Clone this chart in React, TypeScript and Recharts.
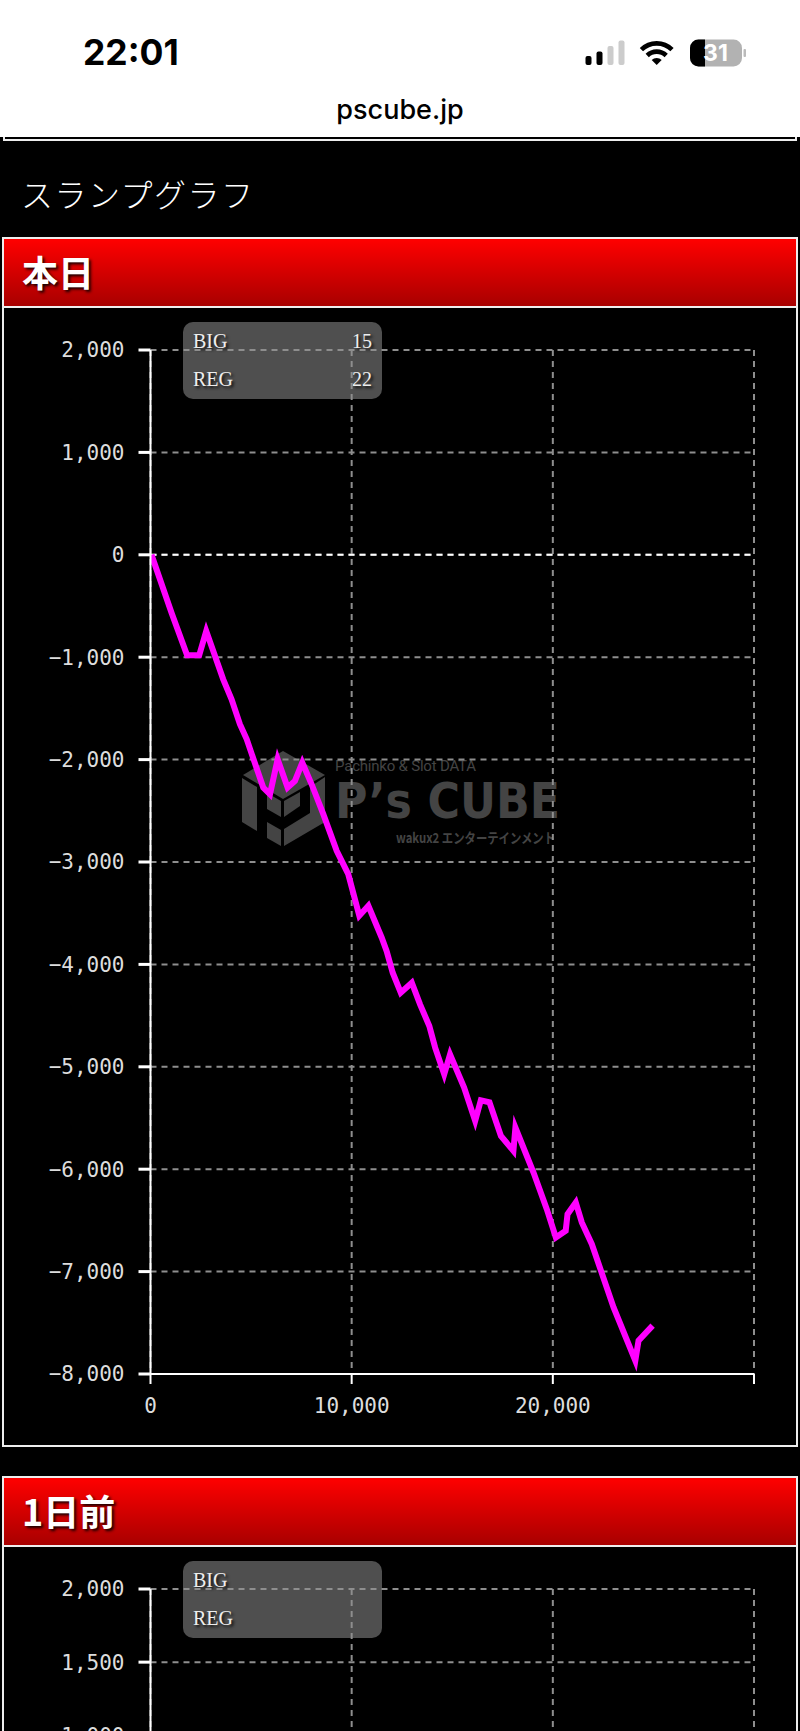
import React from 'react';
import { CartesianGrid, Line, LineChart, ReferenceLine, XAxis, YAxis } from 'recharts';

// game count / medal difference
const games = [
  50, 1045, 1820, 2420, 2770, 3615, 4030, 4445, 4780, 5605, 5940, 6320, 6815, 7180, 7545, 8010,
  8590, 9255, 9830, 10380, 10830, 11490, 11740, 12040, 12440, 12990, 13400, 13860, 14150, 14600,
  14890, 15590, 16140, 16420, 16850, 17420, 18040, 18140, 19040, 19700, 20150, 20640, 20730,
  21140, 21440, 21940, 23020, 24100, 24260, 24960,
];
const medals = [
  0, -566, -982, -982, -745, -1216, -1411, -1655, -1800, -2273, -2338, -1997, -2273, -2208, -2029,
  -2241, -2533, -2891, -3119, -3525, -3428, -3737, -3870, -4081, -4276, -4179, -4390, -4602, -4813,
  -5073, -4878, -5203, -5528, -5327, -5346, -5675, -5821, -5593, -6033, -6390, -6667, -6602, -6439,
  -6325, -6520, -6732, -7350, -7870, -7675, -7528,
];
const xTicks = [0, 10000, 20000, 30000];
const todayTicks = [2000, 1000, 0, -1000, -2000, -3000, -4000, -5000, -6000, -7000, -8000];
// only the ticks that reach the visible part of the page
const prevTicks = [2000, 1500, 1000];

const todayData = games.map((g, i) => ({ g, v: medals[i] }));
// the previous day has no visible line in the crop
const prevData = [{ g: 0, v: null }];

const shadow = '2px 2px 3px rgba(0,0,0,0.9)';
const serif = '"Liberation Serif", serif';
const mono = '"DejaVu Sans Mono", monospace';
const jp = '"Noto Sans CJK JP", sans-serif';

const fmtY = (v: number) => (v < 0 ? '\u2212' : '') + Math.abs(v).toLocaleString('en-US');
const fmtX = (v: number) => (v >= 30000 ? '' : v.toLocaleString('en-US'));

function Slump({
  top,
  ticks,
  domain,
  data,
  xLabels = true,
}: {
  top: number;
  ticks: number[];
  domain: number[];
  data: any[];
  xLabels?: boolean;
}) {
  return (
    <div style={{ position: 'absolute', left: 0, top }}>
      <LineChart width={800} height={1104} data={data} margin={{ top: 30, right: 46, bottom: 0, left: 0 }}>
        <CartesianGrid stroke="#8e8e8e" strokeWidth={2} strokeDasharray="6 5" />
        <XAxis
          dataKey="g"
          type="number"
          domain={[0, 30000]}
          allowDataOverflow
          ticks={xTicks}
          interval={0}
          tickFormatter={xLabels ? fmtX : () => ''}
          height={50}
          tickSize={10}
          tickMargin={14}
          axisLine={{ stroke: '#fff', strokeWidth: 2 }}
          tickLine={{ stroke: '#fff', strokeWidth: 2 }}
          tick={{ fill: '#ddd', fontSize: 21, fontFamily: mono }}
        />
        <YAxis
          dataKey="v"
          type="number"
          width={150.5}
          domain={domain}
          allowDataOverflow
          ticks={ticks}
          interval={0}
          tickFormatter={fmtY}
          tickSize={12}
          tickMargin={14}
          axisLine={{ stroke: '#fff', strokeWidth: 2 }}
          tickLine={{ stroke: '#fff', strokeWidth: 3 }}
          tick={{ fill: '#ddd', fontSize: 21, fontFamily: mono }}
        />
        <ReferenceLine y={0} stroke="#fff" strokeWidth={2} strokeDasharray="6 5" />
        <Line
          dataKey="v"
          stroke="#ff00ff"
          strokeWidth={6}
          strokeLinejoin="miter"
          strokeMiterlimit={10}
          dot={false}
          isAnimationActive={false}
        />
      </LineChart>
    </div>
  );
}

function Panel({ top, title, bottom }: { top: number; title: string; bottom?: number }) {
  return (
    <>
      <div
        style={{
          position: 'absolute',
          left: 2,
          top,
          width: 796,
          height: 71,
          boxSizing: 'border-box',
          border: '2px solid #eee',
          background: 'linear-gradient(#ff0000, #a80000)',
          color: '#fff',
          fontFamily: jp,
          fontWeight: 700,
          fontSize: 36,
          lineHeight: '64px',
          paddingLeft: 18,
          textShadow: shadow,
        }}
      >
        {title}
      </div>
      <div
        style={{
          position: 'absolute',
          left: 2,
          top: top + 69,
          width: 796,
          height: bottom ? bottom - top - 69 : 2000,
          boxSizing: 'border-box',
          border: '2px solid #eee',
        }}
      />
    </>
  );
}

function InfoBox({ top, big, reg }: { top: number; big?: string; reg?: string }) {
  const row = (label: string, value: string | undefined, y: number) => (
    <div
      style={{
        position: 'absolute',
        left: 10,
        right: 10,
        top: y,
        display: 'flex',
        justifyContent: 'space-between',
        fontFamily: serif,
        fontSize: 20,
        lineHeight: '24px',
        color: '#eee',
        textShadow: shadow,
      }}
    >
      <span>{label}</span>
      <span>{value}</span>
    </div>
  );
  return (
    <div
      style={{
        position: 'absolute',
        left: 183,
        top,
        width: 199,
        height: 77,
        borderRadius: 10,
        background: '#4f4f4f',
      }}
    >
      {row('BIG', big, 7)}
      {row('REG', reg, 45)}
    </div>
  );
}

function Watermark() {
  const c = '#444';
  return (
    <svg style={{ position: 'absolute', left: 0, top: 0 }} width={800} height={1000}>
      <polygon fill={c} points="243,775 283,751 325,775 283,799" />
      <polygon fill={c} points="242,778 257,787 257,831 242,822" />
      <polygon fill={c} points="267,793 281,801 281,817 267,809" />
      <polygon fill={c} points="267,822 281,830 281,846 267,838" />
      <polygon fill={c} points="284,801 300,792 300,806 284,817" />
      <polygon fill={c} points="310,787 325,777 325,822 284,846 284,829 310,813" />
      <text x={335} y={771} fill={c} fontSize={15} fontFamily="Roboto" textLength={141}>
        Pachinko &amp; Slot DATA
      </text>
      <text
        x={335}
        y={818}
        fill={c}
        fontSize={50}
        fontWeight={700}
        fontFamily="DejaVu Sans"
        textLength={225}
        lengthAdjust="spacingAndGlyphs"
      >
        P&#8217;s CUBE
      </text>
      <text
        x={396}
        y={843}
        fill={c}
        fontSize={14}
        fontWeight={700}
        fontFamily={jp}
        textLength={159}
        lengthAdjust="spacingAndGlyphs"
      >
        wakux2 エンターテインメント
      </text>
    </svg>
  );
}

function StatusIcons() {
  return (
    <svg style={{ position: 'absolute', left: 0, top: 0 }} width={800} height={100}>
      <rect x={585.5} y={56} width={6} height={9} rx={2} fill="#000" />
      <rect x={596.5} y={51.5} width={6} height={13.5} rx={2} fill="#000" />
      <rect x={607.5} y={46} width={6} height={19} rx={2} fill="#ccc" />
      <rect x={618.5} y={40.5} width={6} height={24.5} rx={2} fill="#ccc" />
      <path d="M641.4 49.7 A21.7 21.7 0 0 1 672 49.7" fill="none" stroke="#000" strokeWidth={4.6} />
      <path d="M647.2 55.5 A13.5 13.5 0 0 1 666.2 55.5" fill="none" stroke="#000" strokeWidth={4.6} />
      <path d="M656.7 65 L651.7 60 A7 7 0 0 1 661.7 60 Z" fill="#000" />
      <rect x={690} y={39.5} width={52} height={27} rx={8.5} fill="#b2b2b2" />
      <path d="M705 39.5 H698.5 A8.5 8.5 0 0 0 690 48 V58 A8.5 8.5 0 0 0 698.5 66.5 H705 Z" fill="#000" />
      <rect x={743.5} y={49} width={2.5} height={8} rx={1} fill="#bbb" />
      <text x={715.5} y={61} textAnchor="middle" fill="#fff" fontSize={23} fontWeight={700} fontFamily="Inter">
        31
      </text>
    </svg>
  );
}

export default function App() {
  return (
    <div
      style={{
        position: 'absolute',
        left: 0,
        top: 0,
        width: 800,
        height: 1731,
        overflow: 'hidden',
        background: '#000',
      }}
    >
      <div style={{ position: 'absolute', left: 0, top: 0, width: 800, height: 137, background: '#fff' }} />
      <StatusIcons />
      <div
        style={{
          position: 'absolute',
          left: 83,
          top: 32,
          fontFamily: 'Inter',
          fontWeight: 700,
          fontSize: 35.5,
          lineHeight: '42px',
          color: '#000',
        }}
      >
        22:01
      </div>
      <div
        style={{
          position: 'absolute',
          left: 0,
          width: 800,
          top: 92,
          textAlign: 'center',
          fontFamily: 'Inter',
          fontWeight: 500,
          fontSize: 27,
          lineHeight: '36px',
          color: '#000',
        }}
      >
        pscube.jp
      </div>
      <div style={{ position: 'absolute', left: 3, top: 137, width: 794, height: 4, boxSizing: 'border-box', borderLeft: '2px solid #eee', borderRight: '2px solid #eee' }} />
      <div style={{ position: 'absolute', left: 3, top: 139, width: 794, height: 2, background: '#eee' }} />
      <div
        style={{
          position: 'absolute',
          left: 21,
          top: 170,
          fontFamily: jp,
          fontWeight: 300,
          fontSize: 32,
          letterSpacing: 1.5,
          lineHeight: '46px',
          color: '#fff',
          textShadow: shadow,
        }}
      >
        スランプグラフ
      </div>

      <Panel top={237} title="本日" bottom={1447} />
      <Watermark />
      <InfoBox top={322} big="15" reg="22" />
      <Slump top={320} ticks={todayTicks} domain={[-8000, 2000]} data={todayData} />

      <Panel top={1476} title="1日前" />
      <InfoBox top={1561} />
      <Slump top={1559} ticks={prevTicks} domain={[-5000, 2000]} data={prevData} xLabels={false} />
    </div>
  );
}
